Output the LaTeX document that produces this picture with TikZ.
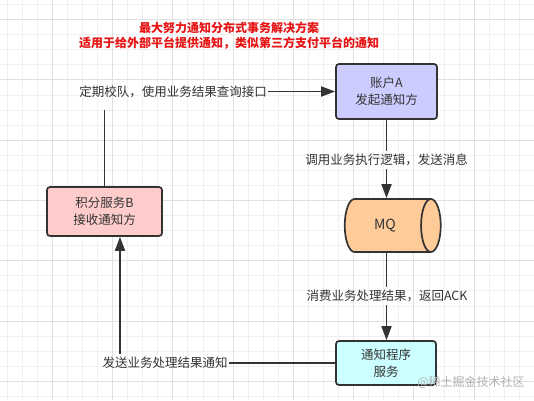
\documentclass[tikz,border=0pt]{standalone}
\usepackage{fontspec}
\setmainfont{Noto Sans CJK SC}
\usepackage{tikz}
\usetikzlibrary{arrows.meta,shapes.geometric}
\definecolor{ink}{RGB}{51,51,51}
\definecolor{gridminor}{RGB}{240,240,240}
\definecolor{gridmajor}{RGB}{224,224,224}
\definecolor{fillA}{RGB}{204,204,255}
\definecolor{fillB}{RGB}{255,204,204}
\definecolor{fillMQ}{RGB}{255,204,153}
\definecolor{fillN}{RGB}{204,255,255}
\definecolor{titlered}{RGB}{230,20,20}

\begin{document}
\begin{tikzpicture}[x=1pt, y=-1pt,
    box/.style={rectangle, rounded corners=3pt, draw=ink, line width=1.7pt, text=ink, align=center,
      font=\fontsize{12.5pt}{17pt}\selectfont},
    lbl/.style={text=ink, inner xsep=1.5pt, inner ysep=3pt, font=\fontsize{12.5pt}{15pt}\selectfont}]
    \useasboundingbox [fill=white] (0,0) rectangle (534,400);
    \foreach \i in {0,...,35}
      \draw [gridminor, line width=0.8pt] ({7+15.07*\i},0) -- ({7+15.07*\i},400);
    \foreach \i in {0,...,26}
      \draw [gridminor, line width=0.8pt] (0,{4.5+15.07*\i}) -- (534,{4.5+15.07*\i});
    \foreach \i in {3,7,...,35}
      \draw [gridmajor, line width=0.8pt] ({7+15.07*\i},0) -- ({7+15.07*\i},400);
    \foreach \i in {1,5,...,25}
      \draw [gridmajor, line width=0.8pt] (0,{4.5+15.07*\i}) -- (534,{4.5+15.07*\i});

    \node [text=titlered, align=center, font=\bfseries\fontsize{12pt}{15.5pt}\selectfont] (title) at (229,35.5)
      {最大努力通知分布式事务解决方案\\适用于给外部平台提供通知，类似第三方支付平台的通知};

    \begin{scope}[every node/.style={box}]
      \node [fill=fillA, minimum width=101, minimum height=55] (A) at (386.5,91.5) {账户A\\发起通知方};
      \node [fill=fillB, minimum width=115, minimum height=49] (B) at (104.5,211.5) {积分服务B\\接收通知方};
      \node [fill=fillN, minimum width=100, minimum height=44] (N) at (386,363) {通知程序\\服务};
      \node [cylinder, rounded corners=0pt, shape aspect=1, fill=fillMQ, minimum width=53, minimum height=96,
        font=\fontsize{14pt}{16pt}\selectfont] (MQ) at (385,225.5) {MQ};
    \end{scope}

    \begin{scope}[every node/.style={lbl}]
      \node (check) at (173,91.5) {定期校队，使用业务结果查询接口};
      \node (call) at (386.5,160) {调用业务执行逻辑，发送消息};
      \node (ack) at (387,296) {消费业务处理结果，返回ACK};
      \node (send) at (165,363) {发送业务处理结果通知};
    \end{scope}
    \coordinate (Bin) at ([xshift=15.5pt]B.south);

    \begin{scope}[->, >={Triangle[length=14pt,width=10pt]}, draw=ink, line width=1.7pt]
      \draw [-] (B.north) -- ([yshift=-9pt]B.north |- check.south);
      \draw (check.east) -- (A.west);
      \draw [-] (A.south) -- (call.north -| A.south);
      \draw (call.south -| A.south) -- (MQ.north -| A.south);
      \draw [-] (MQ.south -| A.south) -- (ack.north -| A.south);
      \draw (ack.south -| A.south) -- (N.north -| A.south);
      \draw [-] (N.west) -- (send.east);
      \draw (send.north -| Bin) -- (Bin);
    \end{scope}

    \node [text=gray!60, font=\fontsize{12pt}{14pt}\selectfont] (mark) at (471,382) {@稀土掘金技术社区};
\end{tikzpicture}
\end{document}
